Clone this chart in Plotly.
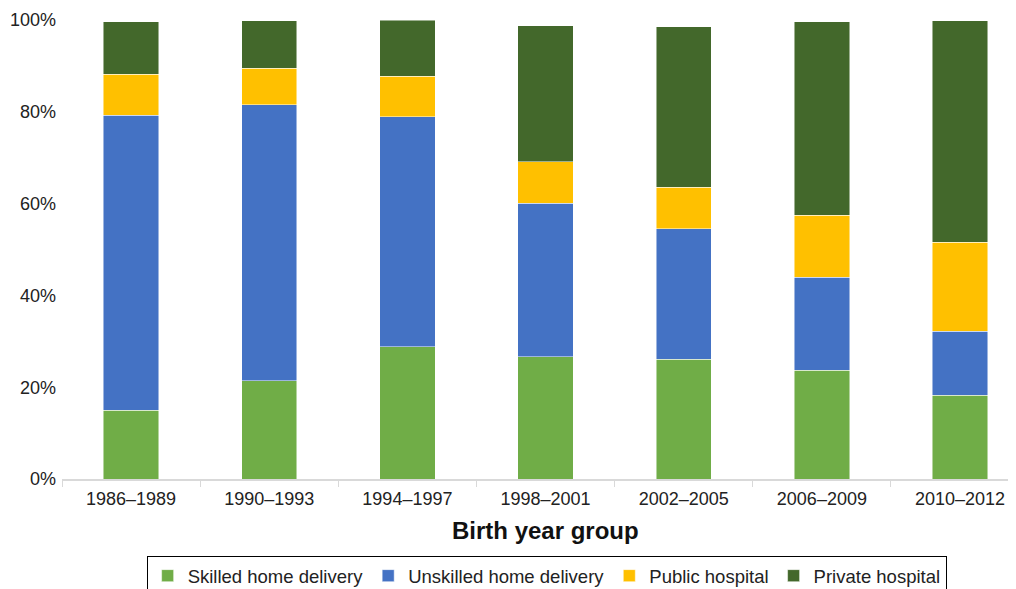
import plotly.graph_objects as go

categories = ["1986–1989", "1990–1993", "1994–1997", "1998–2001", "2002–2005", "2006–2009", "2010–2012"]
skilled_home = [15.0, 21.4, 28.8, 26.6, 26.1, 23.7, 18.3]
unskilled_home = [64.3, 60.1, 50.1, 33.5, 28.4, 20.3, 13.9]
public_hospital = [8.9, 8.0, 8.9, 9.0, 9.1, 13.5, 19.4]
private_hospital = [11.4, 10.3, 12.2, 29.6, 34.9, 42.1, 48.2]

series = [
    ("Skilled home delivery", skilled_home, "#70AD47"),
    ("Unskilled home delivery", unskilled_home, "#4472C4"),
    ("Public hospital", public_hospital, "#FFC000"),
    ("Private hospital", private_hospital, "#43682B"),
]

fig = go.Figure()
for name, vals, color in series:
    fig.add_trace(go.Bar(
        x=categories, y=vals, name=name,
        marker=dict(color=color, line=dict(color="rgba(255,255,255,0.6)", width=0.8)),
        width=0.4,
    ))

font = "Liberation Sans, Arial, sans-serif"
# page body has an 8px margin, so the figure is sized/offset to compensate
fig.update_layout(
    barmode="stack",
    width=1008, height=581,
    margin=dict(l=54, r=0, t=12, b=110, autoexpand=False),
    plot_bgcolor="white", paper_bgcolor="white",
    font=dict(family=font, size=18, color="#222222"),
    showlegend=True,
    legend=dict(
        orientation="h", x=0.508, xanchor="center", y=-0.168, yanchor="top",
        bordercolor="black", borderwidth=1,
        font=dict(family=font, size=18.5, color="#222222"),
        traceorder="normal", itemwidth=30, tracegroupgap=0,
    ),
    xaxis=dict(
        type="category", range=[-0.5, 6.405], automargin=False,
        showline=True, linecolor="#d9d9d9", linewidth=1.5,
        ticks="outside", tickson="boundaries", ticklen=6, tickcolor="#d9d9d9",
        showgrid=False, tickfont=dict(size=18), ticklabelstandoff=3,
    ),
    yaxis=dict(
        range=[0, 100], tickvals=[0, 20, 40, 60, 80, 100], automargin=False,
        ticktext=["0%", "20%", "40%", "60%", "80%", "100%"],
        showgrid=False, showline=False, zeroline=False,
        ticks="", tickfont=dict(size=18), ticklabelstandoff=5,
    ),
    annotations=[dict(
        text="<b>Birth year group</b>", xref="paper", yref="paper",
        x=0.507, y=-0.112, xanchor="center", yanchor="middle",
        showarrow=False, font=dict(family=font, size=24, color="#111111"),
    )],
)

fig.write_html("out.html")
